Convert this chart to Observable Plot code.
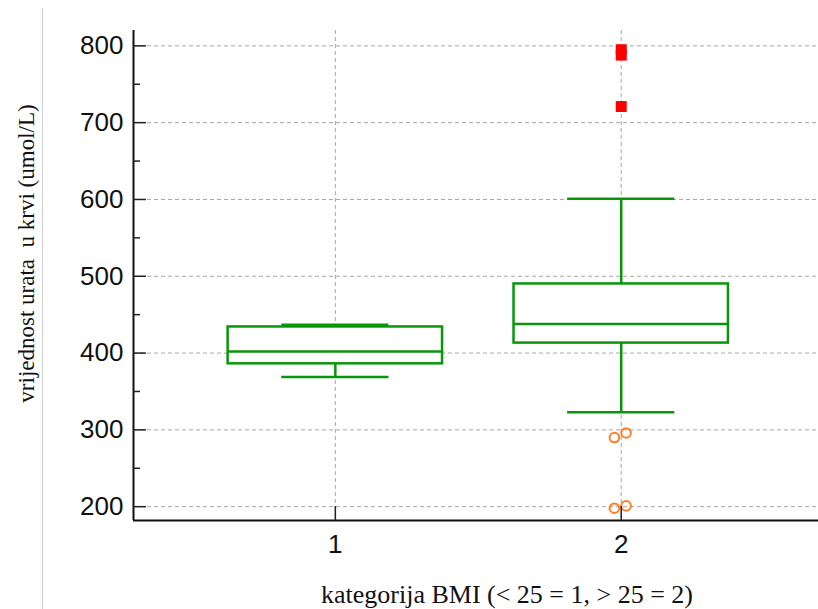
<!DOCTYPE html>
<html><head><meta charset="utf-8">
<script src="https://cdn.jsdelivr.net/npm/d3@7"></script>
<script src="https://cdn.jsdelivr.net/npm/@observablehq/plot@0.6"></script>
<style>
body{margin:0;background:#fff}
#wrap{position:relative;width:818px;height:609px}
#sep{position:absolute;left:42px;top:8px;width:1px;height:601px;background:#cfcfcf;z-index:2}
svg text{white-space:pre}
</style>
</head><body><div id="wrap"></div>
<script>
// ---- data ----
const categories = [1, 2];
const q1 = [386, 413];
const median = [402, 438];
const q3 = [434, 490];
const whiskerLow = [369, 323];
const whiskerHigh = [437, 601];
const farOutlierCat = [2, 2, 2];
const farOutlierVal = [795, 788, 721];
const nearOutlierPos = [1.976, 2.017, 1.976, 2.017];
const nearOutlierVal = [290, 296, 198, 201];
const yTicks = [200, 300, 400, 500, 600, 700, 800];
const yMinorTicks = [250, 350, 450, 550, 650, 750];
const xTicks = [1, 2];
const yTitle = "vrijednost urata  u krvi (umol/L)";
const xTitle = "kategorija BMI (< 25 = 1, > 25 = 2)";

const boxes = categories.map((c, i) => ({cat: c, q1: q1[i], med: median[i], q3: q3[i], lo: whiskerLow[i], hi: whiskerHigh[i]}));
const far = farOutlierVal.map((v, i) => ({x: farOutlierCat[i], y: v}));
const near = nearOutlierVal.map((v, i) => ({x: nearOutlierPos[i], y: v}));

const xDomain = [0.294, 2.69];
const yDomain = [182, 820];
const green = "#0a960a";
const grid = {stroke: "#a6a6a6", strokeDasharray: "4,3", strokeWidth: 1};
const sans = "'Liberation Sans', Arial, sans-serif";
const serif = "'Liberation Serif', 'Times New Roman', serif";
const hw = 0.375, cw = 0.1875;

const chart = Plot.plot({
  width: 818, height: 609,
  marginLeft: 133, marginRight: 0, marginTop: 30, marginBottom: 89,
  x: {domain: xDomain, axis: null},
  y: {domain: yDomain, axis: null},
  style: {fontFamily: sans, background: "white"},
  marks: [
    Plot.ruleY(yTicks, {y: d => d, ...grid}),
    Plot.ruleX(xTicks, {x: d => d, ...grid}),
    // whiskers
    Plot.ruleX(boxes, {x: "cat", y1: "q3", y2: "hi", stroke: green, strokeWidth: 2.5}),
    Plot.ruleX(boxes, {x: "cat", y1: "lo", y2: "q1", stroke: green, strokeWidth: 2.5}),
    Plot.ruleY(boxes, {y: "hi", x1: d => d.cat - cw, x2: d => d.cat + cw, stroke: green, strokeWidth: 2.5}),
    Plot.ruleY(boxes, {y: "lo", x1: d => d.cat - cw, x2: d => d.cat + cw, stroke: green, strokeWidth: 2.5}),
    // boxes
    Plot.rect(boxes, {x1: d => d.cat - hw, x2: d => d.cat + hw, y1: "q1", y2: "q3", fill: "white", stroke: green, strokeWidth: 2.5}),
    Plot.ruleY(boxes, {y: "med", x1: d => d.cat - hw, x2: d => d.cat + hw, stroke: green, strokeWidth: 2.5}),
    // outliers
    Plot.dot(near, {x: "x", y: "y", r: 4.8, stroke: "#ff7f27", strokeWidth: 2, fill: "none"}),
    Plot.dot(far, {x: "x", y: "y", symbol: "square", r: 6.2, fill: "#ff0000", stroke: "none"}),
    // axes lines
    Plot.ruleX([xDomain[0]], {x: d => d, stroke: "#111", strokeWidth: 2}),
    Plot.ruleY([yDomain[0]], {y: d => d, stroke: "#111", strokeWidth: 2}),
    // inward ticks
    Plot.ruleY(yTicks, {y: d => d, stroke: "#222", strokeWidth: 1.5, insetRight: 685 - 13}),
    Plot.ruleY(yMinorTicks, {y: d => d, stroke: "#222", strokeWidth: 1.5, insetRight: 685 - 7}),
    Plot.ruleX(xTicks, {x: d => d, stroke: "#222", strokeWidth: 1.5, insetTop: 490 - 14}),
    // tick labels
    Plot.axisY(yTicks, {tickSize: 0, tickPadding: 10, fontSize: 26, fill: "#111", label: null, tickFormat: d => String(d)}),
    Plot.axisX(xTicks, {tickSize: 0, tickPadding: 14, fontSize: 26, fill: "#111", label: null, tickFormat: d => String(d)}),
    // titles
    Plot.text([yTitle], {frameAnchor: "left", textAnchor: "middle", lineAnchor: "middle", rotate: -90, dx: -107, dy: -22, fontSize: 23, fontFamily: serif, fill: "#111"}),
    Plot.text([xTitle], {frameAnchor: "bottom", textAnchor: "middle", lineAnchor: "middle", dx: 31, dy: 74, fontSize: 26, fontFamily: serif, fill: "#111"})
  ]
});
const wrap = document.getElementById("wrap");
chart.style.position = "absolute";
chart.style.left = "0";
chart.style.top = "0";
wrap.appendChild(chart);
const sep = document.createElement("div");
sep.id = "sep";
wrap.appendChild(sep);
</script>
</body></html>
